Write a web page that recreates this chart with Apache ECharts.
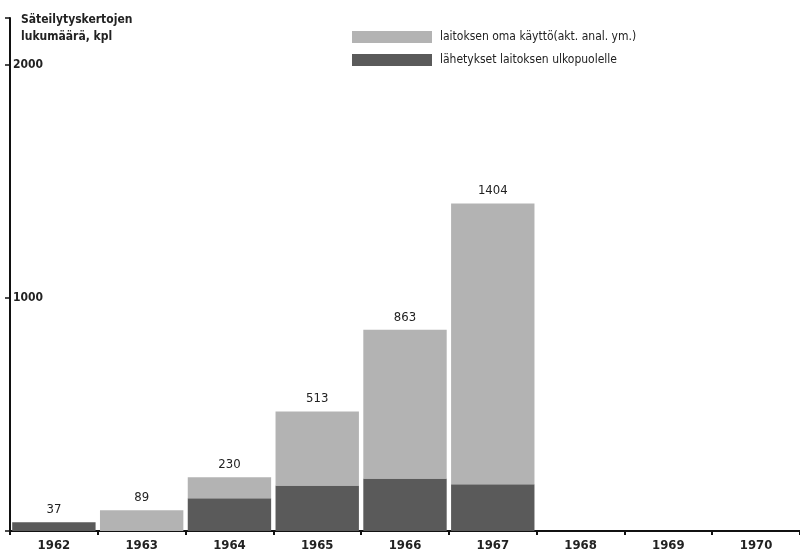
<!DOCTYPE html>
<html>
<head>
<meta charset="utf-8">
<script src="https://cdn.jsdelivr.net/npm/echarts@6/dist/echarts.min.js"></script>
<style>
  html, body { margin: 0; padding: 0; background: #fff; }
  #chart { width: 800px; height: 554px; }
</style>
</head>
<body>
<div id="chart"></div>
<script>
// vuodet
var years = ['1962', '1963', '1964', '1965', '1966', '1967', '1968', '1969', '1970'];
// lähetykset laitoksen ulkopuolelle (tumma)
var lahetykset = [37, 0, 140, 195, 225, 200, null, null, null];
// laitoksen oma käyttö (vaalea)
var omaKaytto = [0, 89, 90, 318, 638, 1204, null, null, null];
// pylväiden yläpuolella olevat summat
var totals = [37, 89, 230, 513, 863, 1404];
var yTicks = [1000, 2000];

var fontName = '"DejaVu Sans Condensed", "DejaVu Sans", sans-serif';

var chart = echarts.init(document.getElementById('chart'));
var option = {
  animation: false,
  backgroundColor: '#fff',
  title: {
    text: 'Säteilytyskertojen\nlukumäärä, kpl',
    left: 16,
    top: 6,
    textStyle: {
      fontFamily: fontName,
      fontWeight: 'bold',
      fontSize: 12,
      lineHeight: 17,
      color: '#222'
    }
  },
  legend: {
    orient: 'vertical',
    left: 347,
    top: 26,
    itemWidth: 80,
    itemHeight: 12,
    itemGap: 11,
    icon: 'rect',
    data: ['laitoksen oma käyttö(akt. anal. ym.)', 'lähetykset laitoksen ulkopuolelle'],
    textStyle: {
      fontFamily: fontName,
      fontSize: 12,
      color: '#222',
      padding: [0, 0, 0, 3]
    }
  },
  grid: {
    left: 10,
    right: -3,
    top: 18,
    bottom: 23,
    containLabel: false
  },
  xAxis: {
    type: 'category',
    data: years,
    axisLine: { lineStyle: { color: '#111', width: 2 } },
    axisTick: { show: true, length: 4, lineStyle: { color: '#111', width: 2 } },
    axisLabel: {
      fontFamily: fontName,
      fontWeight: 'bold',
      fontSize: 13,
      color: '#222',
      margin: 8
    }
  },
  yAxis: {
    type: 'value',
    min: 0,
    max: 2200,
    interval: 1000,
    splitLine: { show: false },
    axisLine: { show: true, lineStyle: { color: '#111', width: 2 } },
    axisTick: { show: true, length: 5, lineStyle: { color: '#111', width: 1.5 } },
    axisLabel: {
      inside: true,
      margin: 3,
      fontFamily: fontName,
      fontWeight: 'bold',
      fontSize: 12,
      color: '#222',
      formatter: function (v) {
        return yTicks.indexOf(v) >= 0 ? String(v) : '';
      }
    }
  },
  series: [
    {
      name: 'lähetykset laitoksen ulkopuolelle',
      type: 'bar',
      stack: 'yht',
      barCategoryGap: '5%',
      data: lahetykset,
      itemStyle: { color: '#5a5a5a' }
    },
    {
      name: 'laitoksen oma käyttö(akt. anal. ym.)',
      type: 'bar',
      stack: 'yht',
      barCategoryGap: '5%',
      data: omaKaytto,
      itemStyle: { color: '#b3b3b3' },
      label: {
        show: true,
        position: 'top',
        distance: 6,
        fontFamily: fontName,
        fontSize: 13,
        color: '#222',
        formatter: function (p) {
          return totals[p.dataIndex] != null ? String(totals[p.dataIndex]) : '';
        }
      }
    }
  ]
};
chart.setOption(option);
</script>
</body>
</html>
